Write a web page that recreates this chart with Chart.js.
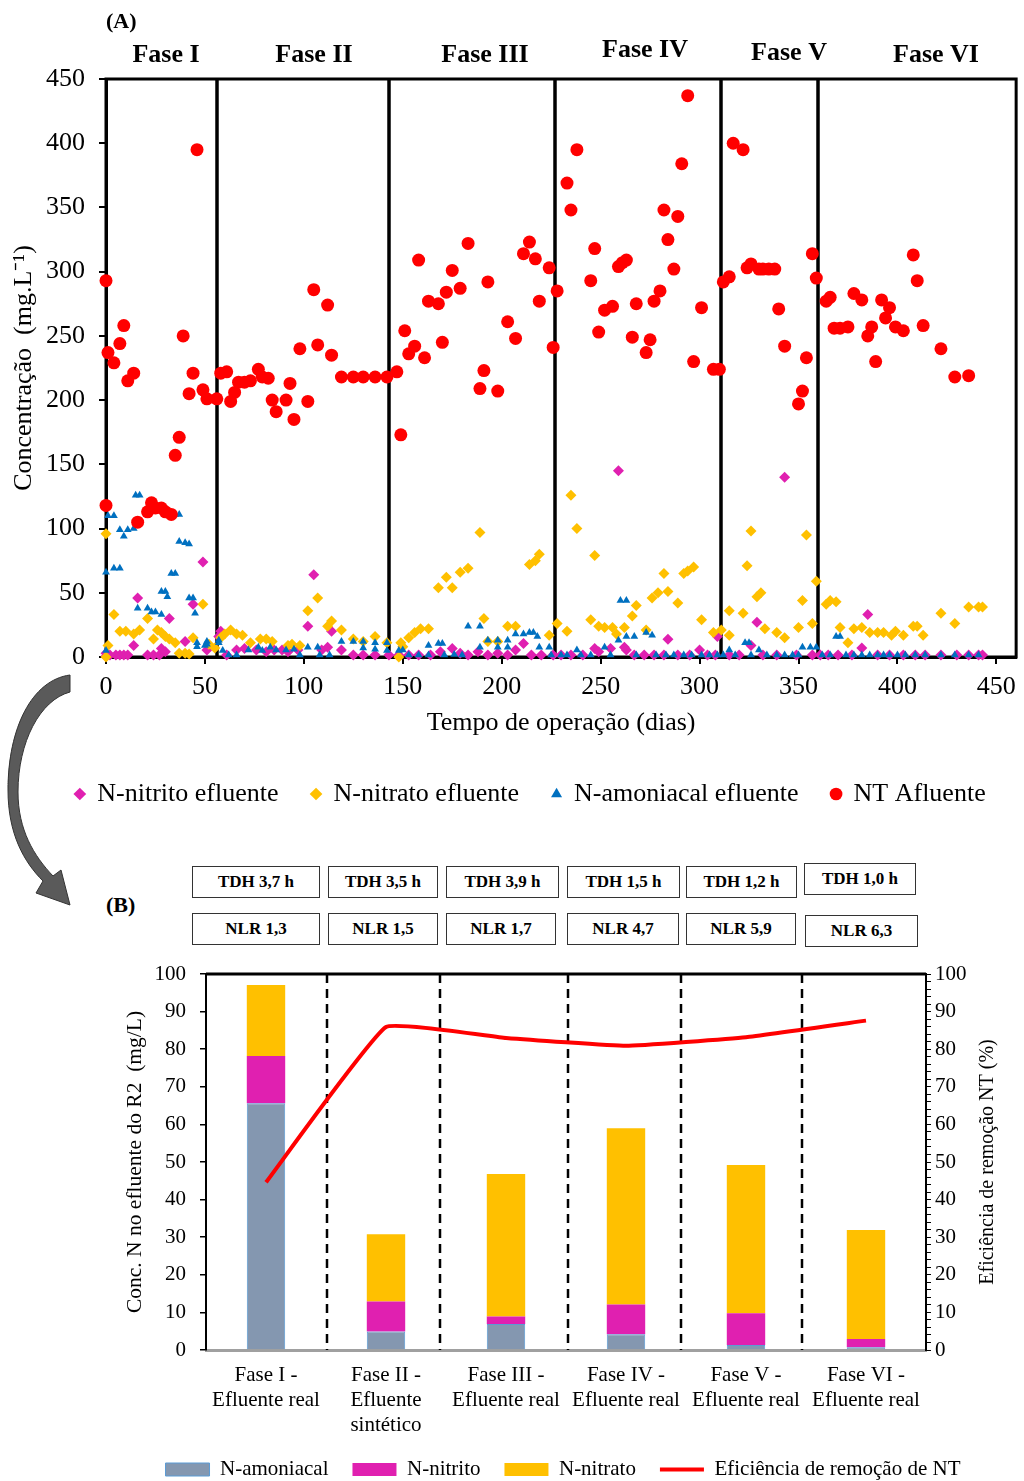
<!DOCTYPE html>
<html>
<head>
<meta charset="utf-8">
<script src="https://cdn.jsdelivr.net/npm/chart.js@4.4.1/dist/chart.umd.min.js"></script>
<style>
  body { margin: 0; background: #fff; width: 1024px; height: 1481px; position: relative; overflow: hidden;
         font-family: "Liberation Serif", "Times New Roman", serif; }
  #chartA { position: absolute; left: 0; top: 0; }
  #chartB { position: absolute; left: 0; top: 960px; }
  .box { position: absolute; border: 1.5px solid #333; box-sizing: border-box; background: #fff;
         font-weight: bold; font-size: 17px; display: flex; align-items: center; justify-content: center; }
  #labelB { position: absolute; left: 106px; top: 892px; font-weight: bold; font-size: 22px; }
  #arrow { position: absolute; left: 0; top: 660px; }
</style>
</head>
<body>
<canvas id="chartA" width="1024" height="830"></canvas>
<div id="labelB">(B)</div>
<canvas id="chartB" width="1024" height="530"></canvas>
<svg id="arrow" width="80" height="260" viewBox="0 660 80 260">
  <path d="M70,675 C32,680 8,728 8,790 C8,834 24,862 43,881 L36,893 L70,905 L61,870 L53,876 C34,856 18,830 18,792 C18,742 40,700 70,692 Z"
        fill="#5a5a5a" stroke="#333" stroke-width="1"/>
</svg>
<script>
// ---- (A) data: [dia, mg/L] ----
const ntAfluente = [[0,293],[0,118],[1,237],[4,229],[7,244],[9,258],[11,215],[14,221],[16,105],[21,113],[23,120],[25,116],[28,116],[30,113],[33,111],[35,157],[37,171],[39,250],[42,205],[44,221],[46,395],[49,208],[51,201],[56,201],[58,221],[61,222],[63,199],[65,206],[67,214],[70,214],[73,215],[77,224],[79,218],[82,217],[84,200],[86,191],[91,200],[93,213],[95,185],[98,240],[102,199],[105,286],[107,243],[112,274],[114,235],[119,218],[125,218],[130,218],[136,218],[142,218],[147,222],[149,173],[151,254],[153,236],[156,242],[158,309],[161,233],[163,277],[168,275],[170,245],[172,284],[175,301],[179,287],[183,322],[189,209],[191,223],[193,292],[198,207],[203,261],[207,248],[211,314],[214,323],[217,310],[219,277],[224,303],[226,241],[228,285],[233,369],[235,348],[238,395],[245,293],[247,318],[249,253],[252,270],[256,273],[259,304],[261,307],[263,309],[266,249],[268,275],[273,237],[275,247],[277,277],[280,285],[282,348],[284,325],[287,302],[289,343],[291,384],[294,437],[297,230],[301,272],[307,224],[310,224],[312,292],[315,296],[317,400],[322,395],[324,303],[326,306],[330,302],[332,302],[335,302],[338,302],[340,271],[343,242],[350,197],[352,207],[354,233],[357,314],[359,295],[364,277],[366,280],[368,256],[371,256],[375,257],[378,283],[382,278],[385,250],[387,257],[389,230],[392,278],[394,264],[396,272],[399,257],[403,254],[408,313],[410,293],[413,258],[422,240],[429,218],[436,219]];
const nAmoniacal = [[0,66],[0,5],[1,110],[4,110],[4,69],[7,69],[7,99],[9,94],[11,99],[14,100],[15,126],[17,126],[16,38],[21,38],[23,35],[25,35],[28,33],[28,51],[30,51],[31,47],[33,65],[35,65],[35,111],[37,111],[37,90],[40,89],[42,88],[42,46],[44,46],[45,34],[46,8],[50,9],[51,10],[46,11],[51,12],[57,13],[57,11],[59,5],[62,1.5],[66,1.5],[72,5.5],[77,7.5],[79,5],[83,7.5],[86,5.5],[91,5.5],[95,6],[98,1.5],[102,7.5],[107,7.5],[108,1.5],[113,1.5],[119,12],[125,12],[130,12],[130,7],[136,11],[136,6],[142,11],[142,5],[148,5],[150,5.5],[153,1.5],[158,1.5],[163,9],[163,1.5],[168,10.5],[170,10.5],[171,1.5],[176,2],[180,1.5],[183,24],[189,24],[189,7.5],[193,13],[198,13],[198,7.5],[203,13],[203,7.5],[207,18],[211,18],[214,19],[216,19],[218,16],[219,7.5],[224,7.5],[225,1.5],[230,1.5],[233,1.5],[238,5.5],[240,1.5],[245,1.5],[252,7.5],[255,1.5],[259,13],[260,44],[263,44],[263,16],[267,16],[268,1.5],[273,19],[276,17],[278,1.5],[283,1.5],[287,1.5],[292,1.5],[296,1.5],[301,1.5],[305,1.5],[309,1.5],[312,1.5],[315,5.5],[318,1.5],[323,11],[325,11],[326,1.5],[330,5.5],[334,1.5],[339,1.5],[343,1.5],[347,1.5],[350,1.5],[352,7.5],[356,7.5],[359,7.5],[362,1.5],[366,1.5],[369,16],[371,16],[374,1.5],[378,1.5],[382,1.5],[386,1.5],[390,1.5],[393,1.5],[396,1.5],[400,1.5],[404,1.5],[409,1.5],[414,1.5],[422,1.5],[429,1.5],[436,1.5],[441,1.5]];
const nNitrito = [[0,3],[0,0.5],[2,1.5],[5,1.5],[7,1.5],[9,1.5],[11,1.5],[14,9],[16,46],[21,1.5],[24,1.5],[27,1.5],[28,6.7],[30,4],[32,30],[40,12],[44,41],[49,74],[51,5.5],[57,16],[58,20],[61,1.5],[66,5.5],[70,6.7],[76,5.5],[81,4],[85,5.5],[89,5.5],[92,4],[97,5.5],[102,24],[105,64],[109,5.5],[112,7.5],[114,20],[119,5.5],[125,1.5],[130,1.5],[136,1.5],[143,1.5],[148,1.5],[153,1.5],[158,1.5],[164,1.5],[169,4],[175,6.7],[179,3],[183,1.5],[188,4],[193,1.5],[198,3],[203,1.5],[207,5.5],[211,10.5],[215,1.5],[220,1.5],[226,1.5],[230,1.5],[235,1.5],[241,1.5],[247,6.7],[249,4],[255,6.7],[259,145],[262,7.5],[263,5.5],[267,1.5],[272,1.5],[277,1.5],[282,1.5],[284,13.8],[289,1.5],[295,1.5],[300,5.5],[304,1.5],[308,1.5],[309,16],[315,1.5],[320,1.5],[326,9],[329,27],[332,1.5],[339,1.5],[343,140],[349,1.5],[357,1.5],[361,1.5],[365,1.5],[370,1.5],[377,1.5],[382,7],[385,33],[390,1.5],[396,1.5],[403,1.5],[409,1.5],[414,1.5],[422,1.5],[430,1.5],[436,1.5],[441,1.5],[443,1.5]];
const nNitrato = [[0,96],[0,0],[1,9],[4,33],[7,20],[10,20],[14,18],[17,21],[21,30],[24,14],[26,21],[28,19],[30,16],[32,14],[35,11],[37,3],[40,3],[42,2.4],[44,15],[49,41],[52,10],[55,7],[58,15],[60,18],[63,21],[66,18],[69,17],[73,11],[78,14],[81,14],[84,12],[92,9],[94,10],[98,9],[102,36],[107,46],[112,24],[114,28],[119,21],[125,14],[130,12],[136,16],[142,11],[148,0],[149,11],[150,8],[153,15],[156,19],[159,22],[163,22],[168,54],[172,62],[175,54],[179,66],[183,69],[189,97],[191,30],[193,12],[198,12],[203,24],[207,24],[214,72],[217,75],[219,80],[224,17],[228,26],[233,20],[235,126],[238,100],[245,29],[247,79],[249,24],[252,23],[256,23],[258,18],[262,23],[266,32],[268,40],[273,21],[276,46],[279,50],[282,65],[284,51],[289,42],[292,65],[294,67],[297,70],[301,29],[307,19],[311,21],[315,17],[315,36],[322,34],[324,71],[326,98],[329,47],[331,50],[333,22],[339,19],[343,15],[350,23],[352,44],[354,95],[357,26],[359,59],[364,41],[366,44],[369,43],[371,23],[375,11],[378,22],[382,23],[386,19],[390,19],[393,19],[397,17],[399,20],[403,17],[408,24],[410,24],[413,17],[422,34],[429,26],[436,39],[441,39],[443,39]];
const phaseNames = ['Fase I', 'Fase II', 'Fase III', 'Fase IV', 'Fase V', 'Fase VI'];
const phaseEnds = [56, 143, 227, 311, 360];
const xTicksA = [0, 50, 100, 150, 200, 250, 300, 350, 400, 450];

// ---- (B) data ----
const phaseLabels = [['Fase I -', 'Efluente real'], ['Fase II -', 'Efluente', 'sintético'], ['Fase III -', 'Efluente real'],
                     ['Fase IV -', 'Efluente real'], ['Fase V -', 'Efluente real'], ['Fase VI -', 'Efluente real']];
const amoniacalB = [65.6, 4.9, 6.9, 4.2, 1.3, 0.7];
const nitritoB   = [12.6, 8.0, 2.0, 7.9, 8.5, 2.2];
const nitratoB   = [18.9, 17.9, 37.9, 46.9, 39.4, 29.0];
const eficiencia = [44.6, 85.9, 83.0, 80.9, 83.2, 87.6];
const tdhLabels = ['TDH 3,7 h', 'TDH 3,5 h', 'TDH 3,9 h', 'TDH 1,5 h', 'TDH 1,2 h', 'TDH 1,0 h'];
const nlrLabels = ['NLR 1,3', 'NLR 1,5', 'NLR 1,7', 'NLR 4,7', 'NLR 5,9', 'NLR 6,3'];

Chart.defaults.font.family = '"Liberation Serif", "Times New Roman", serif';
Chart.defaults.color = '#000';

const toXY = arr => arr.map(p => ({x: p[0], y: p[1]}));
const serif = '"Liberation Serif", "Times New Roman", serif';

// phase lines, frame and labels for (A)
const phaseLabelPos = [[166, 55], [314, 55], [485, 55], [645, 50], [789, 53], [936, 55]];
const phasePlugin = {
  id: 'phases',
  afterLayout(chart) {
    // nudge the legend row to the right, like the original
    chart.legend.left += 20;
    chart.legend.right += 20;
  },
  beforeDatasetsDraw(chart) {
    const {ctx, chartArea: a, scales: {x}} = chart;
    ctx.save();
    ctx.strokeStyle = '#000';
    ctx.lineWidth = 3.5;
    phaseEnds.forEach(d => {
      const px = Math.round(x.getPixelForValue(d));
      ctx.beginPath();
      ctx.moveTo(px, a.top);
      ctx.lineTo(px, a.bottom);
      ctx.stroke();
    });
    ctx.lineWidth = 3;
    ctx.strokeRect(a.left, a.top, a.right - a.left, a.bottom - a.top);
    ctx.restore();
  },
  afterDraw(chart) {
    const {ctx} = chart;
    ctx.save();
    ctx.fillStyle = '#000';
    ctx.font = 'bold 26px ' + serif;
    ctx.textAlign = 'center';
    ctx.textBaseline = 'middle';
    phaseNames.forEach((name, i) => ctx.fillText(name, phaseLabelPos[i][0], phaseLabelPos[i][1]));
    ctx.textAlign = 'left';
    ctx.font = 'bold 22px ' + serif;
    ctx.fillText('(A)', 106, 22);
    ctx.restore();
  }
};

const chartA = new Chart(document.getElementById('chartA'), {
  type: 'scatter',
  data: {
    datasets: [
      {label: 'N-nitrito efluente', data: toXY(nNitrito), pointStyle: 'rectRot', pointRadius: 5.5,
       backgroundColor: '#E020B0', borderColor: '#E020B0', borderWidth: 0, order: 4, clip: false},
      {label: 'N-nitrato efluente', data: toXY(nNitrato), pointStyle: 'rectRot', pointRadius: 5.5,
       backgroundColor: '#FFC000', borderColor: '#FFC000', borderWidth: 0, order: 3, clip: false},
      {label: 'N-amoniacal efluente', data: toXY(nAmoniacal), pointStyle: 'triangle', pointRadius: 4.5,
       backgroundColor: '#0070C0', borderColor: '#0070C0', borderWidth: 0, order: 2, clip: false},
      {label: 'NT Afluente', data: toXY(ntAfluente), pointStyle: 'circle', pointRadius: 6.5,
       backgroundColor: '#FF0000', borderColor: '#FF0000', borderWidth: 0, order: 1, clip: false}
    ]
  },
  options: {
    responsive: false,
    animation: false,
    events: [],
    layout: {padding: {top: 79, right: 3, bottom: 13, left: 0}},
    plugins: {
      tooltip: {enabled: false},
      legend: {
        position: 'bottom',
        labels: {
          usePointStyle: true,
          boxWidth: 9,
          boxHeight: 9,
          padding: 33,
          font: {size: 26},
          color: '#000',
          sort: (a, b) => a.datasetIndex - b.datasetIndex
        }
      }
    },
    scales: {
      x: {
        type: 'linear',
        min: 0,
        max: 460,
        ticks: {font: {size: 26}, color: '#000', padding: 8},
        afterBuildTicks: s => { s.ticks = xTicksA.map(v => ({value: v})); },
        grid: {drawOnChartArea: false, tickLength: 7, color: '#000', lineWidth: 2},
        border: {color: '#000', width: 3},
        title: {display: true, text: 'Tempo de operação (dias)', font: {size: 26}, color: '#000',
                padding: {top: 4, bottom: 9}},
        afterFit: s => { s.height = 91; }
      },
      y: {
        min: 0,
        max: 450,
        ticks: {stepSize: 50, font: {size: 26}, color: '#000', padding: 14},
        grid: {drawOnChartArea: false, tickLength: 7, color: '#000', lineWidth: 2},
        border: {color: '#000', width: 3},
        title: {display: true, text: 'Concentração  (mg.L⁻¹)', font: {size: 26}, color: '#000',
                padding: {top: 9, bottom: 0}},
        afterFit: s => { s.width = 106; }
      }
    }
  },
  plugins: [phasePlugin]
});

// TDH / NLR boxes
const tdhBoxes = [[192, 128], [328, 110], [446, 113], [567, 113], [686, 111], [804, 112]];
const nlrBoxes = [[192, 128], [328, 110], [446, 110], [567, 112], [686, 110], [805, 113]];
tdhLabels.forEach((t, i) => {
  const d = document.createElement('div');
  d.className = 'box';
  d.textContent = t;
  Object.assign(d.style, {left: tdhBoxes[i][0] + 'px', width: tdhBoxes[i][1] + 'px',
                          top: (i === 5 ? 863 : 866) + 'px', height: '32px'});
  document.body.appendChild(d);
});
nlrLabels.forEach((t, i) => {
  const d = document.createElement('div');
  d.className = 'box';
  d.textContent = t;
  Object.assign(d.style, {left: nlrBoxes[i][0] + 'px', width: nlrBoxes[i][1] + 'px',
                          top: (i === 5 ? 915 : 913) + 'px', height: '32px'});
  document.body.appendChild(d);
});

// dashed dividers, top frame line and right title for (B)
const dividers = [0.51, 1.45, 2.52, 3.46, 4.47];
const bPlugin = {
  id: 'bDecor',
  beforeDatasetsDraw(chart) {
    const {ctx, chartArea: a, scales: {x}} = chart;
    ctx.save();
    ctx.strokeStyle = '#000';
    ctx.lineWidth = 2.5;
    ctx.setLineDash([9, 6]);
    dividers.forEach(v => {
      const px = Math.round(x.getPixelForValue(v));
      ctx.beginPath();
      ctx.moveTo(px, a.top);
      ctx.lineTo(px, a.bottom);
      ctx.stroke();
    });
    ctx.setLineDash([]);
    ctx.lineWidth = 3;
    ctx.beginPath();
    ctx.moveTo(a.left, a.top);
    ctx.lineTo(a.right, a.top);
    ctx.stroke();
    ctx.restore();
  },
  afterDraw(chart) {
    const {ctx, chartArea: a} = chart;
    ctx.save();
    ctx.fillStyle = '#000';
    ctx.font = '20px ' + serif;
    ctx.textAlign = 'center';
    ctx.textBaseline = 'middle';
    ctx.translate(988, (a.top + a.bottom) / 2);
    ctx.rotate(-Math.PI / 2);
    ctx.fillText('Eficiência de remoção NT (%)', 0, 0);
    ctx.restore();
  }
};

const chartB = new Chart(document.getElementById('chartB'), {
  type: 'bar',
  data: {
    labels: phaseLabels,
    datasets: [
      {label: 'N-amoniacal', data: amoniacalB, backgroundColor: '#8497B0', borderColor: '#5B9BD5', borderWidth: 1, order: 1},
      {label: 'N-nitrito', data: nitritoB, backgroundColor: '#E020B0', borderColor: '#E020B0', borderWidth: 0, order: 1},
      {label: 'N-nitrato', data: nitratoB, backgroundColor: '#FFC000', borderColor: '#FFC000', borderWidth: 0, order: 1},
      {type: 'line', label: 'Eficiência de remoção de NT', data: eficiencia, yAxisID: 'y1',
       borderColor: '#FF0000', backgroundColor: '#FF0000', borderWidth: 4, pointRadius: 0, tension: 0.1, order: 0}
    ]
  },
  options: {
    responsive: false,
    animation: false,
    events: [],
    layout: {padding: {top: 14, right: 0, bottom: 0, left: 102}},
    datasets: {bar: {categoryPercentage: 1, barPercentage: 0.32}},
    plugins: {
      tooltip: {enabled: false},
      legend: {
        position: 'bottom',
        labels: {
          usePointStyle: true,
          pointStyleWidth: 44,
          boxHeight: 13,
          padding: 24,
          font: {size: 21},
          color: '#000',
          sort: (a, b) => a.datasetIndex - b.datasetIndex,
          generateLabels: chart => Chart.defaults.plugins.legend.labels.generateLabels(chart).map(l => {
            l.pointStyle = l.datasetIndex === 3 ? 'line' : 'rect';
            return l;
          })
        }
      }
    },
    scales: {
      x: {
        stacked: true,
        ticks: {font: {size: 21, lineHeight: 1.19}, color: '#000', padding: 13, maxRotation: 0, autoSkip: false},
        grid: {drawOnChartArea: false, drawTicks: false},
        border: {color: '#A0A0A0', width: 3},
        afterFit: s => { s.height = 85; }
      },
      y: {
        stacked: true,
        min: 0,
        max: 100,
        ticks: {stepSize: 10, font: {size: 21}, color: '#000', padding: 14},
        grid: {drawOnChartArea: false, tickLength: 6, color: '#000', lineWidth: 1.5},
        border: {color: '#000', width: 2},
        title: {display: true, text: 'Conc. N no efluente do R2  (mg/L)', font: {size: 21.5}, color: '#000',
                padding: {top: 20, bottom: 0}},
        afterFit: s => { s.width = 104; s.paddingTop = 0; s.paddingBottom = 0; }
      },
      y1: {
        position: 'right',
        min: 0,
        max: 100,
        ticks: {stepSize: 2, autoSkip: false, font: {size: 21}, color: '#000', padding: 4,
                callback: v => (v % 10 === 0 ? v : '')},
        grid: {drawOnChartArea: false, tickLength: 5, color: '#000', lineWidth: 1},
        border: {color: '#000', width: 2},
        afterFit: s => { s.width = 98; s.paddingTop = 0; s.paddingBottom = 0; }
      }
    }
  },
  plugins: [bPlugin]
});
</script>
</body>
</html>
